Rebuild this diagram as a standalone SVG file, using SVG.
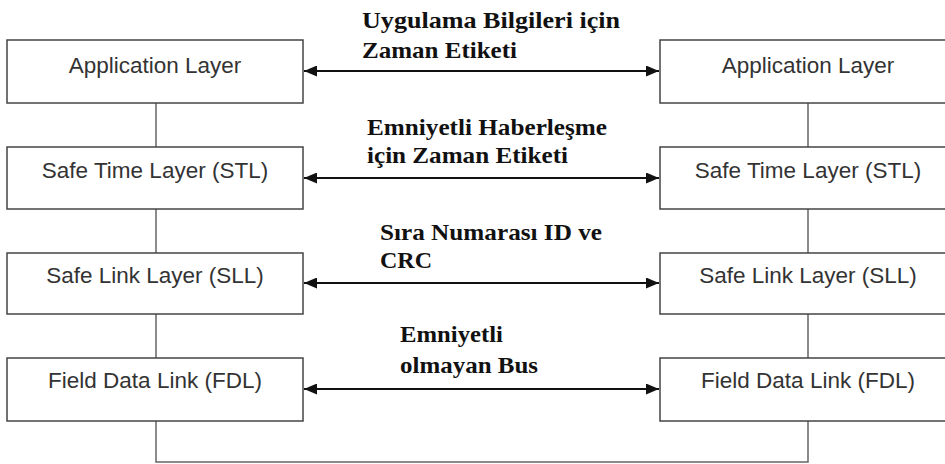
<svg xmlns="http://www.w3.org/2000/svg" width="945" height="464" viewBox="0 0 945 464">
<defs>
<style>
.box{fill:#fff;stroke:#444;stroke-width:1.5}
.bt{font-family:"Liberation Sans",Arial,sans-serif;font-size:22.5px;fill:#333;text-anchor:middle}
.lbl{font-family:"Liberation Serif","Times New Roman",serif;font-size:23px;font-weight:bold;fill:#111}
.wire{stroke:#666;stroke-width:1.5;fill:none}
.arr{stroke:#111;stroke-width:2;fill:none;marker-start:url(#ah);marker-end:url(#ah)}
</style>
<marker id="ah" viewBox="0 0 13 11" refX="13" refY="5.5" markerWidth="13" markerHeight="11" markerUnits="userSpaceOnUse" orient="auto-start-reverse">
<path d="M0,0 L13,5.5 L0,11 Z" fill="#111"/>
</marker>
</defs>
<rect width="945" height="464" fill="#fff"/>
<g id="connectors">
<path class="wire" d="M156,103V147M156,209V253M156,314V358M156,421V462H808V421M808,103V147M808,209V253M808,314V358"/>
<line class="arr" x1="304" y1="71" x2="659" y2="71"/>
<line class="arr" x1="304" y1="178" x2="659" y2="178"/>
<line class="arr" x1="304" y1="283" x2="659" y2="283"/>
<line class="arr" x1="304" y1="389" x2="659" y2="389"/>
</g>
<g id="app-left"><rect class="box" x="7" y="40" width="296" height="63"/><text class="bt" x="155" y="73">Application Layer</text></g>
<g id="stl-left"><rect class="box" x="7" y="147" width="296" height="62"/><text class="bt" x="155" y="178">Safe Time Layer (STL)</text></g>
<g id="sll-left"><rect class="box" x="7" y="253" width="296" height="61"/><text class="bt" x="155" y="283">Safe Link Layer (SLL)</text></g>
<g id="fdl-left"><rect class="box" x="7" y="358" width="296" height="63"/><text class="bt" x="155" y="388">Field Data Link (FDL)</text></g>
<g id="app-right"><rect class="box" x="660" y="40" width="300" height="63"/><text class="bt" x="808" y="73">Application Layer</text></g>
<g id="stl-right"><rect class="box" x="660" y="147" width="300" height="62"/><text class="bt" x="808" y="178">Safe Time Layer (STL)</text></g>
<g id="sll-right"><rect class="box" x="660" y="253" width="300" height="61"/><text class="bt" x="808" y="283">Safe Link Layer (SLL)</text></g>
<g id="fdl-right"><rect class="box" x="660" y="358" width="300" height="63"/><text class="bt" x="808" y="388">Field Data Link (FDL)</text></g>
<g id="labels">
<text class="lbl" x="362" y="28" textLength="258" lengthAdjust="spacingAndGlyphs">Uygulama Bilgileri için</text>
<text class="lbl" x="362" y="58" textLength="155" lengthAdjust="spacingAndGlyphs">Zaman Etiketi</text>
<text class="lbl" x="367" y="135" textLength="240" lengthAdjust="spacingAndGlyphs">Emniyetli Haberleşme</text>
<text class="lbl" x="367" y="163" textLength="201" lengthAdjust="spacingAndGlyphs">için Zaman Etiketi</text>
<text class="lbl" x="380" y="240" textLength="222" lengthAdjust="spacingAndGlyphs">Sıra Numarası ID ve</text>
<text class="lbl" x="380" y="268" textLength="52" lengthAdjust="spacingAndGlyphs">CRC</text>
<text class="lbl" x="400" y="342" textLength="103" lengthAdjust="spacingAndGlyphs">Emniyetli</text>
<text class="lbl" x="400" y="373" textLength="138" lengthAdjust="spacingAndGlyphs">olmayan Bus</text>
</g>
</svg>
